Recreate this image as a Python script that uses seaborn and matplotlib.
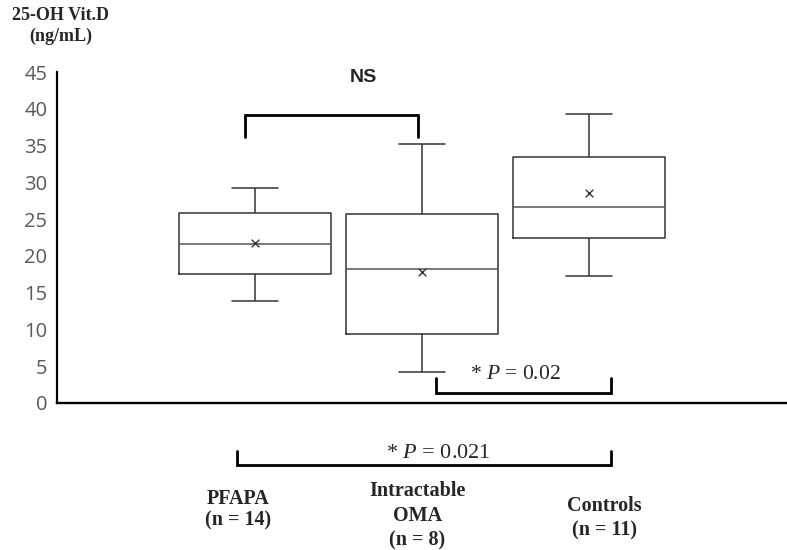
import numpy as np
import pandas as pd
import matplotlib
matplotlib.use("Agg")
import matplotlib.pyplot as plt
import seaborn as sns

# values (25-OH Vit.D, ng/mL)
groups = ["PFAPA", "Intractable OMA", "Controls"]
group_labels = ["PFAPA\n(n = 14)", "Intractable\nOMA\n(n = 8)", "Controls\n(n = 11)"]
# whisker low, Q1, median, Q3, whisker high
pfapa = [13.8, 17.6, 21.6, 25.8, 29.2]
oma = [4.2, 9.4, 18.2, 25.7, 35.2]
controls = [17.3, 22.5, 26.7, 33.4, 39.3]
means = [21.8, 17.8, 28.5]
yticks = [0, 5, 10, 15, 20, 25, 30, 35, 40, 45]

df = pd.DataFrame({
    "group": np.repeat(groups, 5),
    "vitd": pfapa + oma + controls,
})

sns.set_style("white")
plt.rcParams["font.family"] = ["Open Sans", "DejaVu Sans"]
plt.rcParams["mathtext.fontset"] = "custom"
plt.rcParams["mathtext.rm"] = "Liberation Serif"
plt.rcParams["mathtext.it"] = "Liberation Serif:italic"

fig = plt.figure(figsize=(7.87, 5.5), dpi=100)
ax = fig.add_axes([57 / 787, 1 - 403 / 550, 1 - 57 / 787, (403 - 72) / 550])

sns.boxplot(data=df, x="group", y="vitd", order=groups, ax=ax,
            fill=False, width=0.91, whis=1.5, color="#333333", linewidth=1.1,
            capwidths=0.275, medianprops=dict(color="#555555", linewidth=1.1))
ax.scatter(range(len(groups)), means, marker="x", color="#333333", s=30, linewidths=1, zorder=3)

ax.set_xlim(-1.186, 3.184)
ax.set_ylim(0, 45)
ax.set_yticks(yticks)
ax.set_xticks([])
ax.set_xlabel("")
ax.set_ylabel("")
ax.tick_params(axis="y", length=0, pad=7, labelsize=14.5, labelcolor="#595959")
for s in ["top", "right"]:
    ax.spines[s].set_visible(False)
ax.spines["left"].set_linewidth(1.6)
ax.spines["left"].set_color("black")
ax.spines["bottom"].set_linewidth(1.7)
ax.spines["bottom"].set_color("black")

serif = ["Liberation Serif", "DejaVu Serif"]
brk = dict(color="black", lw=2, clip_on=False, solid_joinstyle="miter")

# NS bracket (PFAPA vs OMA)
ax.plot([-0.062, -0.062, 0.974, 0.974], [36.2, 39.2, 39.2, 36.2], **brk)
ax.text(0.65, 44.2, "NS", ha="center", va="center", fontsize=14, fontweight="bold",
        family=["Liberation Sans", "DejaVu Sans"])

# OMA vs Controls
ax.plot([1.08, 1.08, 2.13, 2.13], [3.36, 1.3, 1.3, 3.36], **brk)
ax.text(1.555, 3.85, r"* $\it{P}$ = 0.02", ha="center", va="center", fontsize=15.5,
        family=serif)

# PFAPA vs Controls, below the axis
ax.plot([-0.111, -0.111, 2.13, 2.13], [-6.49, -8.43, -8.43, -6.49], **brk)
ax.text(1.097, -6.84, r"* $\it{P}$ = 0.021", ha="center", va="center", fontsize=16,
        family=serif, clip_on=False)

# group labels
label_x = [-0.10, 0.97, 2.09]
label_y = [-14.5, -15.3, -15.7]
label_spacing = [1.1, 1.3, 1.3]
for lx, ly, ls, lab in zip(label_x, label_y, label_spacing, group_labels):
    ax.text(lx, ly, lab, ha="center", va="center", fontsize=14.5, fontweight="bold",
            family=serif, linespacing=ls, clip_on=False)

fig.text(61 / 787, 1 - 26 / 550, "25-OH Vit.D\n(ng/mL)", ha="center", va="center",
         fontsize=13, fontweight="bold", family=serif, linespacing=1.3)

fig.savefig("out.png", dpi=100)
